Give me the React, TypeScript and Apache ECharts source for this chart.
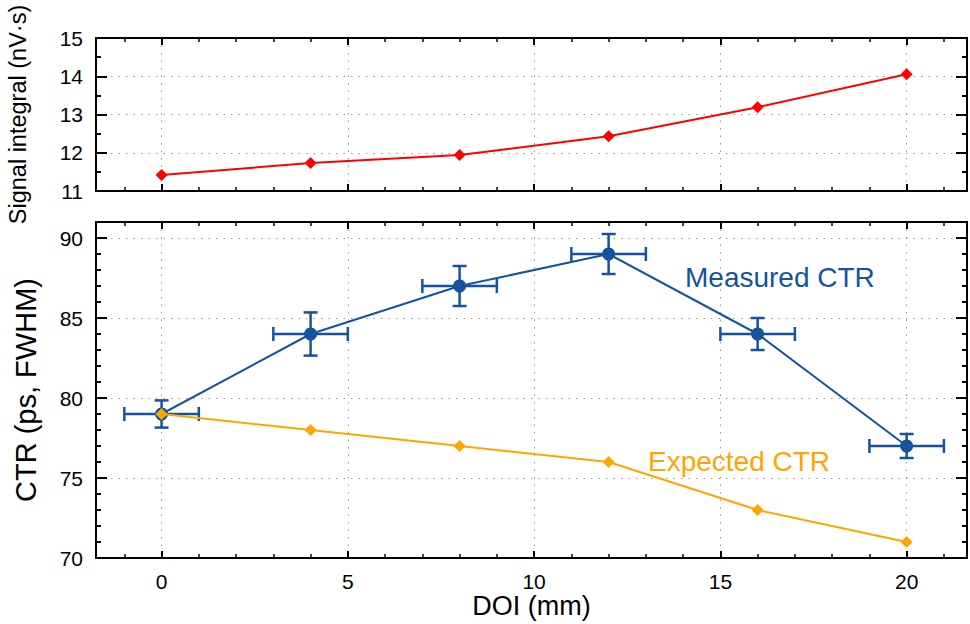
import React, { useEffect, useRef } from "react";
import * as echarts from "echarts";

const doi = [0, 4, 8, 12, 16, 20];
const doiErr = [1, 1, 1, 1, 1, 1];
const signalIntegral = [11.42, 11.73, 11.94, 12.43, 13.19, 14.05];
const measuredCTR = [79, 84, 87, 89, 84, 77];
const measuredErr = [0.85, 1.35, 1.25, 1.25, 1.0, 0.75];
const expectedCTR = [79, 78, 77, 76, 73, 71];

const FONT = '"Liberation Sans", Arial, Helvetica, sans-serif';
const BLUE = "#15539e";
const ORANGE = "#ffa500";
const RED = "#ff0000";

const X_MIN = -1.76;
const X_MAX = 21.62;

const dotted = { show: true, lineStyle: { color: "#999", width: 1, type: [1.5, 6] as any }, showMinLine: false, showMaxLine: false };

function xAxisDef(gridIndex: number, position: "top" | "bottom", labels: boolean, extra: any = {}) {
  return {
    type: "value",
    gridIndex,
    position,
    min: X_MIN,
    max: X_MAX,
    splitNumber: 5,
    axisLine: { show: true, onZero: false, lineStyle: { color: "#000", width: 2 } },
    axisTick: { show: true, inside: true, length: 7, lineStyle: { color: "#000", width: 2 } },
    minorTick: { show: true, splitNumber: 5, length: 4, lineStyle: { color: "#000", width: 1.5 } },
    splitLine: position === "bottom" ? dotted : { show: false },
    axisLabel: {
      show: labels,
      showMinLabel: false,
      showMaxLabel: false,
      color: "#000",
      fontFamily: FONT,
      fontSize: 21,
      margin: 13,
    },
    ...extra,
  };
}

function yAxisDef(gridIndex: number, position: "left" | "right", min: number, max: number, interval: number, minorSplit: number, labels: boolean, extra: any = {}) {
  return {
    type: "value",
    gridIndex,
    position,
    min,
    max,
    interval,
    axisLine: { show: true, onZero: false, lineStyle: { color: "#000", width: 2 } },
    axisTick: { show: true, inside: true, length: 11, lineStyle: { color: "#000", width: 2 } },
    minorTick: { show: true, splitNumber: minorSplit, length: 5, lineStyle: { color: "#000", width: 2 } },
    splitLine: position === "left" ? dotted : { show: false },
    axisLabel: {
      show: labels,
      showMaxLabel: labels ? (max % interval === 0) : false,
      color: "#000",
      fontFamily: FONT,
      fontSize: 21,
      margin: 13,
      formatter: (v: number) => (v % interval === 0 ? String(v) : ""),
    },
    ...extra,
  };
}

export default function App() {
  const ref = useRef<HTMLDivElement>(null);

  useEffect(() => {
    if (!ref.current) return;
    const chart = echarts.init(ref.current, undefined, { renderer: "svg" });

    const errData = doi.map((x, i) => [x, measuredCTR[i], doiErr[i], measuredErr[i]]);

    const option: any = {
      animation: false,
      backgroundColor: "#fff",
      textStyle: { fontFamily: FONT },
      grid: [
        { left: 96, right: 3, top: 38, height: 153, containLabel: false, outerBoundsMode: "none" },
        { left: 96, right: 3, top: 222, height: 336, containLabel: false, outerBoundsMode: "none" },
      ],
      xAxis: [
        xAxisDef(0, "bottom", false),
        xAxisDef(0, "top", false),
        xAxisDef(1, "bottom", true, {
          name: "DOI (mm)",
          nameLocation: "middle",
          nameGap: 34,
          nameMoveOverlap: false,
          nameTextStyle: { color: "#000", fontFamily: FONT, fontSize: 27 },
        }),
        xAxisDef(1, "top", false),
      ],
      yAxis: [
        yAxisDef(0, "left", 11, 15, 1, 2, true, {
          name: "Signal integral (nV·s)",
          nameLocation: "middle",
          nameRotate: 90,
          nameGap: 66,
          nameMoveOverlap: false,
          nameTextStyle: { color: "#000", fontFamily: FONT, fontSize: 23.5 },
        }),
        yAxisDef(0, "right", 11, 15, 1, 2, false),
        yAxisDef(1, "left", 70, 91, 5, 5, true, {
          name: "CTR (ps, FWHM)",
          nameLocation: "middle",
          nameRotate: 90,
          nameGap: 56,
          nameMoveOverlap: false,
          nameTextStyle: { color: "#000", fontFamily: FONT, fontSize: 29 },
        }),
        yAxisDef(1, "right", 70, 91, 5, 5, false),
      ],
      series: [
        {
          type: "line",
          name: "Signal integral",
          xAxisIndex: 0,
          yAxisIndex: 0,
          data: doi.map((x, i) => [x, signalIntegral[i]]),
          symbol: "diamond",
          symbolSize: 12,
          lineStyle: { color: RED, width: 2 },
          itemStyle: { color: RED },
          z: 5,
        },
        {
          type: "custom",
          name: "Measured CTR error",
          xAxisIndex: 2,
          yAxisIndex: 2,
          data: errData,
          encode: { x: 0, y: 1 },
          z: 3,
          renderItem: (params: any, api: any) => {
            const x = api.value(0);
            const y = api.value(1);
            const xe = api.value(2);
            const ye = api.value(3);
            const l = api.coord([x - xe, y]);
            const r = api.coord([x + xe, y]);
            const t = api.coord([x, y + ye]);
            const b = api.coord([x, y - ye]);
            const cap = 7;
            const style = { stroke: BLUE, lineWidth: 2.5, fill: null };
            return {
              type: "group",
              children: [
                { type: "line", shape: { x1: l[0], y1: l[1], x2: r[0], y2: r[1] }, style },
                { type: "line", shape: { x1: l[0], y1: l[1] - cap, x2: l[0], y2: l[1] + cap }, style },
                { type: "line", shape: { x1: r[0], y1: r[1] - cap, x2: r[0], y2: r[1] + cap }, style },
                { type: "line", shape: { x1: t[0], y1: t[1], x2: b[0], y2: b[1] }, style },
                { type: "line", shape: { x1: t[0] - cap, y1: t[1], x2: t[0] + cap, y2: t[1] }, style },
                { type: "line", shape: { x1: b[0] - cap, y1: b[1], x2: b[0] + cap, y2: b[1] }, style },
              ],
            };
          },
        },
        {
          type: "line",
          name: "Measured CTR",
          xAxisIndex: 2,
          yAxisIndex: 2,
          data: doi.map((x, i) => [x, measuredCTR[i]]),
          symbol: "circle",
          symbolSize: 13,
          lineStyle: { color: BLUE, width: 2 },
          itemStyle: { color: BLUE },
          z: 4,
        },
        {
          type: "line",
          name: "Expected CTR",
          xAxisIndex: 2,
          yAxisIndex: 2,
          data: doi.map((x, i) => [x, expectedCTR[i]]),
          symbol: "diamond",
          symbolSize: 12,
          lineStyle: { color: ORANGE, width: 2 },
          itemStyle: { color: ORANGE },
          z: 5,
        },
      ],
      graphic: [
        {
          type: "text",
          left: 685,
          top: 263,
          style: { text: "Measured CTR", fill: BLUE, font: `28px ${FONT}` },
          z: 10,
        },
        {
          type: "text",
          left: 648,
          top: 447,
          style: { text: "Expected CTR", fill: ORANGE, font: `28px ${FONT}` },
          z: 10,
        },
      ],
    };

    chart.setOption(option);
    return () => chart.dispose();
  }, []);

  return (
    <div
      ref={ref}
      style={{ position: "fixed", left: 0, top: 0, width: 970, height: 624, background: "#fff" }}
    />
  );
}
